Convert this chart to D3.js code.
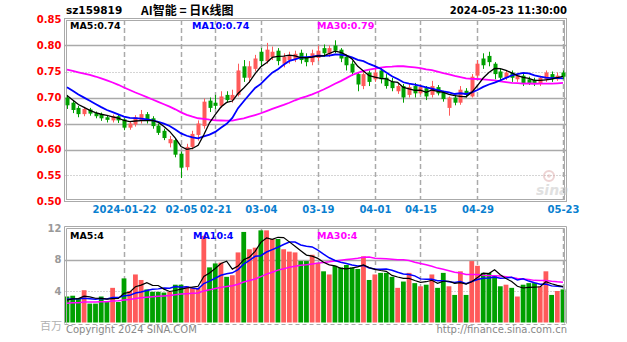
<!DOCTYPE html>
<html><head><meta charset="utf-8">
<script src="https://cdn.jsdelivr.net/npm/d3@7/dist/d3.min.js"></script>
<style>body{margin:0;background:#fff}svg{display:block}</style></head>
<body><svg id="c" width="627" height="342"></svg>
<script>
// ---------- DATA ----------
const dates = ["01-08","01-09","01-10","01-11","01-12","01-15","01-16","01-17","01-18","01-19",
"01-22","01-23","01-24","01-25","01-26","01-29","01-30","01-31","02-01","02-02",
"02-05","02-06","02-07","02-08","02-19","02-20","02-21","02-22","02-23","02-26",
"02-27","02-28","02-29","03-01","03-04","03-05","03-06","03-07","03-08","03-11",
"03-12","03-13","03-14","03-15","03-18","03-19","03-20","03-21","03-22","03-25",
"03-26","03-27","03-28","03-29","04-01","04-02","04-03","04-08","04-09","04-10",
"04-11","04-12","04-15","04-16","04-17","04-18","04-19","04-22","04-23","04-24",
"04-25","04-26","04-29","04-30","05-06","05-07","05-08","05-09","05-10","05-13",
"05-14","05-15","05-16","05-17","05-20","05-21","05-22","05-23"];
const openP = [0.700,0.690,0.680,0.668,0.677,0.670,0.668,0.662,0.656,0.664,
0.658,0.642,0.648,0.655,0.668,0.660,0.646,0.636,0.612,0.618,
0.592,0.566,0.605,0.628,0.645,0.694,0.690,0.684,0.705,0.695,
0.705,0.760,0.738,0.755,0.788,0.770,0.778,0.790,0.765,0.772,
0.774,0.786,0.778,0.768,0.776,0.795,0.783,0.800,0.792,0.778,
0.765,0.745,0.722,0.748,0.735,0.752,0.738,0.730,0.712,0.722,
0.705,0.722,0.708,0.718,0.705,0.720,0.710,0.680,0.700,0.690,
0.713,0.702,0.742,0.775,0.780,0.765,0.750,0.738,0.748,0.735,
0.742,0.735,0.734,0.726,0.735,0.745,0.735,0.748];
const highP = [0.705,0.693,0.684,0.682,0.680,0.673,0.671,0.666,0.667,0.667,
0.660,0.654,0.666,0.676,0.672,0.664,0.650,0.640,0.626,0.622,
0.596,0.611,0.636,0.656,0.698,0.700,0.705,0.712,0.712,0.715,
0.765,0.772,0.770,0.782,0.795,0.805,0.798,0.795,0.785,0.788,
0.790,0.792,0.785,0.792,0.800,0.802,0.800,0.810,0.795,0.782,
0.770,0.748,0.752,0.752,0.762,0.758,0.745,0.738,0.726,0.726,
0.726,0.728,0.725,0.722,0.732,0.724,0.713,0.702,0.705,0.722,
0.718,0.745,0.772,0.785,0.788,0.768,0.755,0.752,0.752,0.746,
0.746,0.740,0.738,0.742,0.752,0.750,0.748,0.752];
const lowP = [0.678,0.670,0.662,0.664,0.665,0.660,0.655,0.652,0.652,0.651,
0.637,0.638,0.644,0.650,0.650,0.640,0.628,0.618,0.604,0.585,
0.545,0.560,0.600,0.617,0.640,0.672,0.678,0.680,0.690,0.690,
0.702,0.730,0.728,0.750,0.760,0.765,0.772,0.762,0.758,0.765,
0.768,0.765,0.760,0.762,0.770,0.778,0.778,0.785,0.768,0.752,
0.742,0.712,0.716,0.722,0.730,0.727,0.717,0.712,0.707,0.690,
0.700,0.700,0.705,0.695,0.700,0.704,0.692,0.665,0.685,0.686,
0.700,0.700,0.738,0.755,0.760,0.735,0.732,0.734,0.730,0.730,
0.722,0.724,0.722,0.722,0.730,0.730,0.732,0.735];
const closeP = [0.685,0.676,0.668,0.678,0.669,0.664,0.660,0.657,0.664,0.656,
0.642,0.650,0.662,0.668,0.655,0.645,0.632,0.622,0.620,0.590,
0.565,0.605,0.630,0.650,0.692,0.680,0.684,0.702,0.695,0.705,
0.752,0.738,0.760,0.775,0.770,0.792,0.788,0.770,0.778,0.780,
0.784,0.772,0.768,0.785,0.790,0.785,0.795,0.790,0.775,0.762,
0.748,0.725,0.745,0.730,0.748,0.735,0.722,0.718,0.722,0.700,
0.720,0.708,0.720,0.702,0.722,0.708,0.697,0.700,0.690,0.715,
0.705,0.740,0.765,0.762,0.768,0.745,0.738,0.748,0.738,0.742,
0.728,0.728,0.728,0.738,0.748,0.735,0.742,0.740];
// closes before the visible window (feed the moving averages only)
const priorClose = [0.745,0.750,0.755,0.748,0.752,0.765,0.775,0.785,0.790,0.795,
0.800,0.805,0.798,0.790,0.780,0.770,0.760,0.755,0.748,0.742,
0.745,0.740,0.738,0.730,0.725,0.720,0.712,0.705,0.698];
const volume = [3.3,3.4,3.1,4.1,2.4,2.4,3.3,2.6,4.4,2.6,
5.6,4.0,6.1,5.4,4.2,3.9,3.9,3.8,3.9,4.8,
4.8,4.6,4.4,4.4,11.0,7.0,7.5,7.6,5.8,6.0,
8.9,11.5,9.3,9.5,11.7,11.7,10.6,10.6,9.3,9.0,
8.9,7.8,7.8,8.6,7.6,6.5,6.1,7.2,7.0,7.3,
7.0,6.8,8.4,5.4,6.1,6.3,6.3,5.8,4.4,5.2,
6.3,5.0,4.6,4.8,6.1,4.4,6.3,4.6,3.5,6.5,
3.5,7.8,7.2,6.3,6.3,5.9,4.6,4.8,4.4,3.3,
4.8,5.0,5.0,4.6,6.5,3.5,4.0,4.2];
const priorVolume = [2.0,2.3,2.1,1.9,2.4,2.2,2.6,2.0,1.8,2.3,
2.5,2.1,2.2,2.4,1.9,2.0,2.6,2.3,2.2,2.2,
3.2,2.8,3.4,2.9,2.95,2.6,3.0,2.5,2.85];
const priceTicks = [0.85,0.80,0.75,0.70,0.65,0.60,0.55,0.50];
const volTicks = [12,8,4];
const tickIndex = [10,20,26,34,44,54,62,72,87];
const tickLabels = ["2024-01-22","02-05","02-21","03-04","03-19","04-01","04-15","04-29","05-23"];
const maPeriods = [5,10,30];
const priceLegend = ["MA5:0.74","MA10:0.74","MA30:0.79"];
const volLegend = ["MA5:4","MA10:4","MA30:4"];

// ---------- CHART ----------
const N = closeP.length;
const svg = d3.select("#c");
const RED = "#ff5a5a", GREEN = "#00a000", GRID = "#aaaaaa";
const maColors = ["#000000","#0000ff","#ff00ff"];
const L = 64.5, R = 566.5;

const x = d3.scalePoint().domain(d3.range(N)).range([67, 563]);
const yP = d3.scaleLinear().domain([0.50, 0.85]).range([201.5, 19.5]);
const yV = d3.scaleLinear().domain([0, 12]).range([322.5, 228]);

function movingAvg(prior, vals, n) {
  const all = prior.concat(vals), off = prior.length;
  return vals.map((v, i) => d3.mean(all.slice(off + i - n + 1, off + i + 1)));
}

// header
svg.append("text").attr("x", 66).attr("y", 14).text("sz159819")
  .attr("font-family", "DejaVu Sans").attr("font-weight", "bold").attr("font-size", 10.5).attr("fill", "#000");
svg.append("text").attr("x", 141).attr("y", 15).text("AI智能 = 日K线图")
  .attr("font-family", "Noto Sans CJK SC").attr("font-weight", "bold").attr("font-size", 12).attr("fill", "#000");
svg.append("text").attr("x", 567).attr("y", 14).attr("text-anchor", "end").text("2024-05-23 11:30:00")
  .attr("font-family", "DejaVu Sans").attr("font-weight", "bold").attr("font-size", 10).attr("fill", "#000");

// ---- price panel grid ----
const gP = svg.append("g");
const dotted = new Set([0.75, 0.55]);
priceTicks.slice(1, -1).forEach(t => {
  gP.append("line").attr("x1", L).attr("x2", R).attr("y1", Math.round(yP(t)) + 0.5).attr("y2", Math.round(yP(t)) + 0.5)
    .attr("stroke", GRID).attr("stroke-width", dotted.has(t) ? 1 : 1.5)
    .attr("stroke-dasharray", dotted.has(t) ? "1,2" : null);
});
tickIndex.forEach(i => {
  [[20, 200], [228, 322]].forEach(([a, b]) => {
    svg.append("line").attr("x1", Math.round(x(i)) + 0.5).attr("x2", Math.round(x(i)) + 0.5).attr("y1", a).attr("y2", b)
      .attr("stroke", GRID).attr("stroke-width", 1.5).attr("stroke-dasharray", "5,3");
  });
});
// borders
[[L, 18.5, R, 201.5], [L + 2, 20.5, R - 2, 199.5]].forEach(([a, b, c, d]) => {
  svg.append("rect").attr("x", a).attr("y", b).attr("width", c - a).attr("height", d - b)
    .attr("fill", "none").attr("stroke", GRID);
});

// y axis price labels
const axP = svg.append("g").attr("transform", `translate(${L - 1},0)`)
  .call(d3.axisLeft(yP).tickValues(priceTicks).tickFormat(d3.format(".2f")).tickSize(0).tickPadding(2));
axP.select(".domain").remove();
axP.selectAll("text").attr("fill", "#ff0000").attr("font-family", "DejaVu Sans").attr("font-weight", "bold").attr("font-size", 10);

// x axis labels
const axX = svg.append("g").attr("transform", "translate(0,203)")
  .call(d3.axisBottom(x).tickValues(tickIndex).tickFormat((d, k) => tickLabels[k]).tickSize(0).tickPadding(3));
axX.select(".domain").remove();
axX.selectAll("text").attr("fill", "#0a7fd0").attr("font-family", "DejaVu Sans").attr("font-weight", "bold").attr("font-size", 10);

// watermark
const wm = svg.append("g").attr("opacity", 0.55);
wm.append("circle").attr("cx", 549).attr("cy", 176).attr("r", 5).attr("fill", "none").attr("stroke", "#e0b0b0").attr("stroke-width", 2);
wm.append("circle").attr("cx", 549).attr("cy", 176).attr("r", 1.8).attr("fill", "#e0b0b0");
wm.append("text").attr("x", 536).attr("y", 195).text("sina")
  .attr("font-family", "DejaVu Sans").attr("font-style", "italic").attr("font-weight", "bold").attr("font-size", 14).attr("fill", "#c8c8c8");

// candles
const bw = 4;
const cg = svg.append("g");
d3.range(N).forEach(i => {
  const up = closeP[i] >= openP[i];
  const col = up ? RED : GREEN;
  const cx = Math.round(x(i)) + 0.5;
  cg.append("line").attr("x1", cx).attr("x2", cx).attr("y1", yP(highP[i])).attr("y2", yP(lowP[i])).attr("stroke", col);
  const top = yP(Math.max(openP[i], closeP[i])), bot = yP(Math.min(openP[i], closeP[i]));
  cg.append("rect").attr("x", cx - bw / 2).attr("y", top).attr("width", bw).attr("height", Math.max(1, bot - top))
    .attr("fill", col);
});

// price MAs
const lineP = d3.line().x((d, i) => x(i)).y(d => yP(d)).curve(d3.curveLinear);
[2, 1, 0].forEach(k => {
  svg.append("path").attr("d", lineP(movingAvg(priorClose, closeP, maPeriods[k])))
    .attr("fill", "none").attr("stroke", maColors[k]).attr("stroke-width", k === 0 ? 1.3 : 1.8);
});
[70, 192, 317].forEach((px, k) => {
  svg.append("text").attr("x", px).attr("y", 29).text(priceLegend[k])
    .attr("font-family", "DejaVu Sans").attr("font-weight", "bold").attr("font-size", 9.5).attr("fill", maColors[k]);
});

// ---- volume panel ----
svg.append("line").attr("x1", L).attr("x2", R).attr("y1", Math.round(yV(8)) + 0.5).attr("y2", Math.round(yV(8)) + 0.5)
  .attr("stroke", GRID).attr("stroke-width", 1.5);
svg.append("line").attr("x1", L).attr("x2", R).attr("y1", Math.round(yV(4)) + 0.5).attr("y2", Math.round(yV(4)) + 0.5)
  .attr("stroke", GRID).attr("stroke-dasharray", "1,2");
const vb = svg.append("g");
d3.range(N).forEach(i => {
  const up = closeP[i] >= openP[i];
  vb.append("rect").attr("x", x(i) - 2.4).attr("y", yV(volume[i])).attr("width", 4.8)
    .attr("height", yV(0) - yV(volume[i])).attr("fill", up ? RED : GREEN);
});
const lineV = d3.line().x((d, i) => x(i)).y(d => yV(d));
[2, 1, 0].forEach(k => {
  svg.append("path").attr("d", lineV(movingAvg(priorVolume, volume, maPeriods[k])))
    .attr("fill", "none").attr("stroke", maColors[k]).attr("stroke-width", k === 0 ? 1.2 : 1.5);
});
// volume borders
[[L, 226.5, R], [L + 2, 228.5, R - 2]].forEach(([a, b, c]) => {
  svg.append("path").attr("d", `M${a},323.5V${b}H${c}V323.5`).attr("fill", "none").attr("stroke", GRID);
});
svg.append("line").attr("x1", L).attr("x2", R).attr("y1", 324.5).attr("y2", 324.5)
  .attr("stroke", GRID).attr("stroke-dasharray", "4,3");
const axV = svg.append("g").attr("transform", `translate(${L - 1},0)`)
  .call(d3.axisLeft(yV).tickValues(volTicks).tickFormat(d3.format("d")).tickSize(0).tickPadding(2));
axV.select(".domain").remove();
axV.selectAll("text").attr("fill", "#999").attr("font-family", "DejaVu Sans").attr("font-weight", "bold").attr("font-size", 10);
[70, 193, 317].forEach((px, k) => {
  svg.append("text").attr("x", px).attr("y", 239).text(volLegend[k])
    .attr("font-family", "DejaVu Sans").attr("font-weight", "bold").attr("font-size", 9.5).attr("fill", maColors[k]);
});
svg.append("text").attr("x", 62).attr("y", 330).attr("text-anchor", "end").text("百万")
  .attr("font-family", "Noto Sans CJK SC").attr("font-size", 11).attr("fill", "#b0b0b0");
svg.append("text").attr("x", 66).attr("y", 333).text("Copyright 2024 SINA.COM")
  .attr("font-family", "DejaVu Sans").attr("font-size", 10).attr("fill", "#888");
svg.append("text").attr("x", 567).attr("y", 333).attr("text-anchor", "end").text("http://finance.sina.com.cn")
  .attr("font-family", "DejaVu Sans").attr("font-size", 10).attr("fill", "#888");
</script></body></html>
